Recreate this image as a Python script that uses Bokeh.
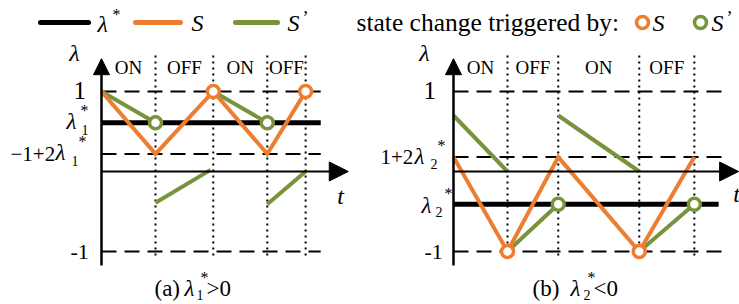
from bokeh.plotting import figure
from bokeh.models import Range1d, Label, Arrow, NormalHead
from bokeh.embed import file_html
from bokeh.resources import INLINE

# ---------------- data ----------------
lam1 = 0.61            # lambda_1*  (panel a)
lam2 = -0.41           # lambda_2*  (panel b)

# panel (a): switching instants and trajectories
t_a = [0.0, 1.0, 2.07, 3.07, 3.78]
S_a = [1.0, 0.22, 1.0, 0.22, 1.0]                 # S between 1 and -1+2*lam1
Sp_a_t = [[0.0, 1.0], [1.0, 2.02], [2.07, 3.07], [3.07, 3.78]]
Sp_a_v = [[1.0, 0.61], [-0.39, 0.02], [1.0, 0.61], [-0.41, 0.0]]
trigS_a_t, trigS_a_v = [2.07, 3.78], [1.0, 1.0]
trigSp_a_t, trigSp_a_v = [1.0, 3.07], [0.61, 0.61]
levels_a = [1.0, 0.22, -1.0]

# panel (b)
t_b = [0.0, 1.0, 1.94, 3.44, 4.46]
S_b = [0.18, -1.0, 0.18, -1.0, 0.18]              # S between 1+2*lam2 and -1
Sp_b_t = [[0.0, 1.0], [1.0, 1.94], [1.94, 3.44], [3.44, 4.46]]
Sp_b_v = [[0.7, 0.0], [-1.0, -0.41], [0.7, 0.0], [-1.0, -0.41]]
trigS_b_t, trigS_b_v = [1.0, 3.44], [-1.0, -1.0]
trigSp_b_t, trigSp_b_v = [1.94, 4.46], [-0.41, -0.41]
levels_b = [1.0, 0.18, -1.0]

states = ["ON", "OFF", "ON", "OFF"]

# ---------------- layout ----------------
W, H = 739, 304
PX_T, PX_L = 54.0, 80.0          # px per unit of t / lambda
OX_A, OX_B, OY = 101.0, 453.0, 171.0   # frame px of the two origins

ORANGE = "#ED7D31"
GREEN = "#77933C"
FONT = "Liberation Serif"

p = figure(width=W, height=H, output_backend="svg", toolbar_location=None,
           x_range=Range1d(-OX_A / PX_T, (W - OX_A) / PX_T),
           y_range=Range1d(-(H - OY) / PX_L, OY / PX_L),
           x_axis_type=None, y_axis_type=None, min_border=0,
           min_border_left=0, min_border_right=0, min_border_top=0, min_border_bottom=0,
           outline_line_color=None)
p.extra_x_ranges = {"b": Range1d(-OX_B / PX_T, (W - OX_B) / PX_T)}
p.background_fill_color = "white"
p.border_fill_color = "white"


def scr(px, py):
    """page pixel -> screen coords of the frame (y up)"""
    return px, H - py


def dat(px, py):
    """page pixel -> data coords of the default (panel a) ranges"""
    return (px - OX_A) / PX_T, (OY - py) / PX_L


def lab(text, x, y, size, dx=0, dy=0, align="left", italic=False, rng=None, screen=False):
    kw = dict(x=x, y=y, text=text, x_offset=dx, y_offset=-dy, text_font=FONT,
              text_font_size=f"{size}px", text_font_style="italic" if italic else "normal",
              text_align=align, text_baseline="middle", text_color="black")
    if rng:
        kw["x_range_name"] = rng
    if screen:
        kw["x_units"] = "screen"
        kw["y_units"] = "screen"
    p.add_layout(Label(**kw))


def panel(rng, t, S, Sp_t, Sp_v, tS_t, tS_v, tSp_t, tSp_v, levels, lam,
          t_dash_end, t_star_end, t_arrow_end):
    kw = {"x_range_name": rng} if rng else {}
    # dashed reference levels
    p.multi_line(xs=[[0, t_dash_end] for _ in levels], ys=[[l, l] for l in levels],
                 line_color="black", line_width=2, line_dash="15 8", **kw)
    # dotted switching instants
    p.multi_line(xs=[[ti, ti] for ti in t[1:]], ys=[[1.45, -1.09] for _ in t[1:]],
                 line_color="black", line_width=2, line_dash="2 4", **kw)
    # axes
    p.add_layout(Arrow(end=NormalHead(size=16, fill_color="black", line_color="black"),
                       x_start=0, y_start=-1.175, x_end=0, y_end=1.41,
                       line_width=2.5, line_color="black", **kw))
    p.add_layout(Arrow(end=NormalHead(size=19, fill_color="black", line_color="black"),
                       x_start=0, y_start=0, x_end=t_arrow_end, y_end=0,
                       line_width=2, line_color="black", **kw))
    # lambda*
    p.line([0, t_star_end], [lam, lam], line_color="black", line_width=5, **kw)
    # S'
    p.multi_line(xs=Sp_t, ys=Sp_v, line_color=GREEN, line_width=4, **kw)
    # S
    p.line(t, S, line_color=ORANGE, line_width=4, line_join="miter", **kw)
    # triggers
    p.scatter(tSp_t, tSp_v, marker="circle", size=12, line_width=3.5,
              line_color=GREEN, fill_color="white", **kw)
    p.scatter(tS_t, tS_v, marker="circle", size=12, line_width=3.5,
              line_color=ORANGE, fill_color="white", **kw)
    # ON/OFF
    for i, s in enumerate(states):
        lab(s, (t[i] + t[i + 1]) / 2, 1.3, 19, align="center", rng=rng)


panel(None, t_a, S_a, Sp_a_t, Sp_a_v, trigS_a_t, trigS_a_v, trigSp_a_t, trigSp_a_v,
      levels_a, lam1, 4.06, 4.06, 4.57)
panel("b", t_b, S_b, Sp_b_t, Sp_b_v, trigS_b_t, trigS_b_v, trigSp_b_t, trigSp_b_v,
      levels_b, lam2, 4.98, 4.91, 5.28)

# ---- tick-like labels, panel a (left aligned pieces) ----
lab("1", 0, levels_a[0], 25, dx=-28, dy=-1)
lab("λ", 0, lam1, 23, dx=-35, dy=-1, italic=True)
lab("1", 0, lam1, 14, dx=-20, dy=7)
lab("*", 0, lam1, 16, dx=-21, dy=-12)
lab("−1+2", 0, levels_a[1], 21, dx=-91)
lab("λ", 0, levels_a[1], 23, dx=-46, dy=-1, italic=True)
lab("1", 0, levels_a[1], 14, dx=-30, dy=7)
lab("*", 0, levels_a[1], 16, dx=-23, dy=-12)
lab("-1", 0, levels_a[2], 22, dx=-31)

# ---- tick-like labels, panel b ----
lab("1", 0, levels_b[0], 25, dx=-30, dy=-1, rng="b")
lab("1+2", 0, levels_b[1], 21, dx=-73, rng="b")
lab("λ", 0, levels_b[1], 23, dx=-39, dy=-1, italic=True, rng="b")
lab("2", 0, levels_b[1], 14, dx=-23, dy=7, rng="b")
lab("*", 0, levels_b[1], 16, dx=-16, dy=-12, rng="b")
lab("λ", 0, lam2, 23, dx=-32, dy=1, italic=True, rng="b")
lab("2", 0, lam2, 14, dx=-18, dy=8, rng="b")
lab("*", 0, lam2, 16, dx=-9, dy=-11, rng="b")
lab("-1", 0, levels_b[2], 22, dx=-29, rng="b")

# ---- axis names ----
for px, py, t in [(74, 52, "λ"), (424, 52, "λ"), (340, 195, "t"), (736, 193, "t")]:
    x, y = scr(px, py)
    lab(t, x, y, 24, align="center", italic=True, screen=True)

# ---- captions ----
for px, py, t, size, it in [(154, 288, "(a)", 23, False), (184, 288, "λ", 23, True),
                            (196, 294, "1", 14, False), (200, 277, "*", 16, False),
                            (206, 288, ">0", 23, False),
                            (532, 288, "(b)", 23, False), (570, 288, "λ", 23, True),
                            (583, 294, "2", 14, False), (587, 277, "*", 16, False),
                            (593, 288, "<0", 23, False)]:
    x, y = scr(px, py)
    lab(t, x, y, size, italic=it, screen=True)

# ---- legend ----
for (x0, x1), col in [((40, 88), "black"), ((135, 180), ORANGE), ((235, 277), GREEN)]:
    a0, b0 = dat(x0, 22)
    a1, b1 = dat(x1, 22)
    p.segment(a0, b0, a1, b1, line_color=col, line_width=5, line_cap="round")
for (px, col) in [(642, ORANGE), (700, GREEN)]:
    a, b = dat(px, 22)
    p.scatter([a], [b], marker="circle", size=12, line_width=3.5,
              line_color=col, fill_color="white")
for px, py, t, size, it in [(97, 23, "λ", 24, True), (112, 14, "*", 16, False),
                            (191, 22, "S", 24, True),
                            (287, 22, "S", 24, True), (302, 17, "’", 18, False),
                            (356, 22, "state change triggered by:", 25.5, False),
                            (652, 22, "S", 24, True),
                            (711, 22, "S", 24, True), (726, 17, "’", 18, False)]:
    x, y = scr(px, py)
    lab(t, x, y, size, italic=it, screen=True)

open("out.html", "w").write(file_html(p, INLINE))
